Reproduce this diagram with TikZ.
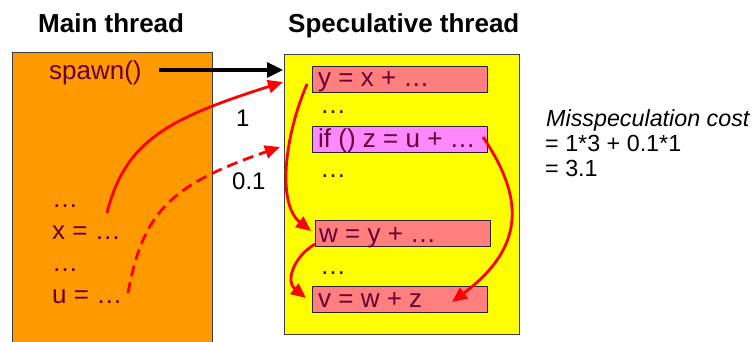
\documentclass[tikz,border=0pt]{standalone}
\usepackage{fontspec}
\setmainfont{Liberation Sans}
\usetikzlibrary{arrows.meta}
\definecolor{orangeF}{HTML}{FF9900}
\definecolor{yellowF}{HTML}{FFFF00}
\definecolor{salmonF}{HTML}{FF7F7F}
\definecolor{pinkF}{HTML}{FF88FF}
\definecolor{codeC}{HTML}{660033}
\begin{document}
\begin{tikzpicture}[x=1pt,y=-1pt,
  thread/.style={draw=black!75, line width=0.8pt, inner sep=0pt, anchor=north west},
  codebox/.style={draw=black!85, line width=1pt, fill=salmonF, minimum width=175pt, minimum height=26pt, inner sep=0pt, anchor=north west},
  code/.style={text=codeC, font=\fontsize{26}{30}\selectfont, anchor=base west, inner sep=0pt},
  titletext/.style={font=\fontsize{26}{30}\selectfont\bfseries, anchor=base west, inner sep=0pt},
  note/.style={font=\fontsize{23.3}{25}\selectfont, anchor=base west, inner sep=0pt},
  probtext/.style={font=\fontsize{24}{28}\selectfont, anchor=base west, inner sep=0pt},
  dep/.style={draw=red, line width=2.8pt, -{Triangle[length=15pt,width=13pt]}},
  spawnarrow/.style={draw=black, line width=3.2pt, -{Triangle[length=16pt,width=15pt]}}
]
\clip (0,0) rectangle (756,342);
\fill[white] (0,0) rectangle (756,342);

% titles
\node[titletext] (t1) at (38,33) {Main thread};
\node[titletext] (t2) at (288,33) {Speculative thread};

% thread boxes
\node[thread, fill=orangeF, minimum width=200pt, minimum height=310pt] (main) at (12,52) {};
\node[thread, fill=yellowF, minimum width=235pt, minimum height=280pt] (spec) at (284,54) {};

% main thread code
\node[code] (spawn) at (49,80) {spawn()};
\node[code] (md1) at (52,208) {\dots};
\node[code] (mx) at (52,240) {x = \dots};
\node[code] (md2) at (52,272) {\dots};
\node[code] (mu) at (52,303) {u = \dots};

% speculative thread boxes
\node[codebox] (by) at (312,66) {};
\node[codebox, fill=pinkF] (bif) at (312,126) {};
\node[codebox] (bw) at (315,220) {};
\node[codebox] (bv) at (312,286) {};

\node[code] (ty) at (318,87) {y = x + \dots};
\node[code] (sd1) at (320,114) {\dots};
\node[code] (tif) at (318,148) {if () z = u + \dots};
\node[code] (sd2) at (320,178) {\dots};
\node[code] (tw) at (319,243) {w = y + \dots};
\node[code] (sd3) at (320,274) {\dots};
\node[code] (tv) at (318,308) {v = w + z};

% probabilities
\node[probtext] (p1) at (236,127) {1};
\node[probtext] (p2) at (232,190) {0.1};

% cost note
\node[note] (n1) at (546,127) {\itshape Misspeculation cost};
\node[note] (n2) at (545,152) {= 1*3 + 0.1*1};
\node[note] (n3) at (545,177) {= 3.1};

% connector end points
\coordinate (spS) at (159,70);
\coordinate (spE) at (283,70);
\coordinate (xS) at (107,213);
\coordinate (xE) at (283,82);
\coordinate (uS) at (128,293);
\coordinate (uE) at (280,147);
\coordinate (yS) at (307,84);
\coordinate (wE) at (311,231);
\coordinate (wS) at (315,244);
\coordinate (vE) at (306,298);
\coordinate (zS) at (483,137);
\coordinate (vE2) at (452,302);

% connectors
\draw[spawnarrow] (spS) -- (spE);
\draw[dep] (xS) .. controls (125,140) and (170,118) .. (xE);
\draw[dep, dash pattern=on 11pt off 6pt] (uS) .. controls (143,212) and (170,185) .. (uE);
\draw[dep] (yS) .. controls (283,140) and (278,205) .. (wE);
\draw[dep] (wS) .. controls (292,258) and (286,282) .. (vE);
\draw[dep] (zS) .. controls (522,195) and (528,245) .. (vE2);
\end{tikzpicture}
\end{document}
